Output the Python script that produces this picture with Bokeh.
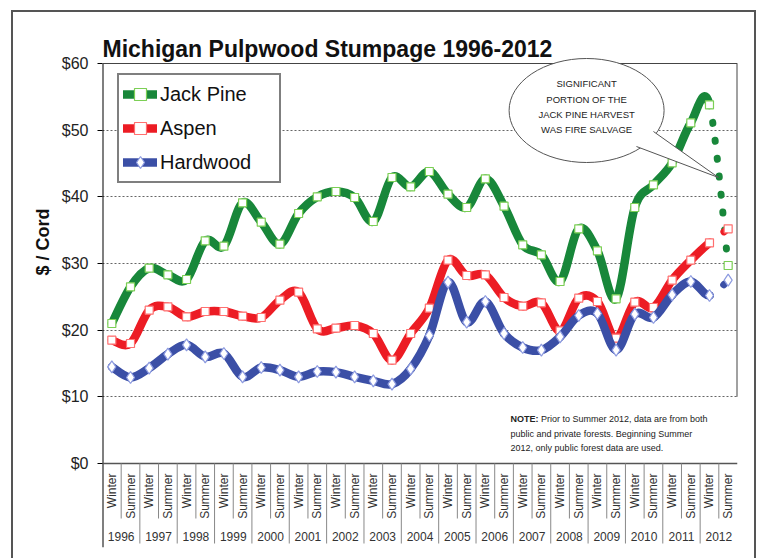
import math
from bokeh.plotting import figure
from bokeh.models import (Range1d, FixedTicker, PrintfTickFormatter, Legend, LegendItem,
                          Label, ColumnDataSource, Title)
from bokeh.core.properties import value
from bokeh.embed import file_html
from bokeh.resources import INLINE

# ---------------- data ----------------
years = [str(y) for y in range(1996, 2013)]
seasons = ["Winter", "Summer"]
categories = [(y, s) for y in years for s in seasons]

jack_pine = [21.0, 26.5, 29.3, 28.3, 27.6, 33.4, 32.6, 39.1, 36.2, 32.9,
             37.5, 40.0, 40.8, 39.9, 36.3, 42.9, 41.5, 43.8, 40.4, 38.4,
             42.7, 38.6, 32.8, 31.3, 27.3, 35.2, 31.9, 24.7, 38.4, 41.8,
             45.1, 51.1, 53.8, 29.7]
aspen = [18.5, 18.0, 23.0, 23.5, 22.0, 22.8, 22.8, 22.1, 21.9, 24.5,
         25.7, 20.2, 20.3, 20.7, 19.5, 15.5, 19.5, 23.3, 30.5, 28.2,
         28.3, 24.9, 23.6, 24.1, 19.9, 24.8, 24.3, 18.8, 24.2, 23.4,
         27.5, 30.5, 33.1, 35.2]
hardwood = [14.5, 12.9, 14.3, 16.4, 17.8, 16.0, 16.5, 13.0, 14.4, 14.0,
            13.0, 13.8, 13.7, 13.0, 12.4, 11.9, 14.2, 19.2, 27.2, 21.2,
            24.3, 19.5, 17.4, 17.0, 19.0, 22.2, 22.5, 17.0, 22.4, 21.9,
            25.3, 27.3, 25.2, 27.5]
y_ticks = [0, 10, 20, 30, 40, 50, 60]
grid_ticks = [10, 20, 30, 40, 50]

title_text = "Michigan Pulpwood Stumpage 1996-2012"
y_label = "$ / Cord"
callout_lines = ["SIGNIFICANT", "PORTION OF THE", "JACK PINE HARVEST", "WAS FIRE SALVAGE"]
note_bold = "NOTE:"
note_lines = ["Prior to Summer  2012, data are from both",
              "public and private forests.  Beginning Summer",
              "2012, only public forest data are used."]

# ---------------- style ----------------
SANS = "Liberation Sans, Arial, sans-serif"

n = len(categories)
xs = [i + 0.5 for i in range(n)]
y_min, y_max = 0, 60

p = figure(width=759, height=558, x_range=Range1d(0, n), y_range=Range1d(-12.6, 66.75),
           output_backend="svg", toolbar_location=None, x_axis_location=None,
           min_border_left=102, min_border_right=22, min_border_top=18, min_border_bottom=11,
           styles={"box-shadow": "inset 11px 10px 0 0 #fff, inset -3px 0 0 0 #fff, "
                                 "inset 13px 12px 0 0 #555, inset -5px 0 0 0 #555"})
p.outline_line_color = None
p.border_fill_color = None
p.background_fill_color = "white"

# y axis (line drawn separately so it stops at $60)
p.yaxis.ticker = FixedTicker(ticks=y_ticks)
p.yaxis.formatter = PrintfTickFormatter(format="$%d")
p.yaxis.major_label_text_font_size = "16px"
p.yaxis.major_label_text_font = SANS
p.yaxis.major_label_text_color = "#222222"
p.yaxis.axis_line_color = None
p.yaxis.major_tick_line_color = "black"
p.yaxis.major_tick_out = 5
p.yaxis.major_tick_in = 0
p.yaxis.minor_tick_out = 0
p.yaxis.minor_tick_in = 0
p.yaxis.major_label_standoff = 9
p.xgrid.visible = False
p.ygrid.ticker = FixedTicker(ticks=grid_ticks)
p.ygrid.grid_line_color = "#666666"
p.ygrid.grid_line_dash = "2 2"

p.add_layout(Title(text=y_label, align="right", offset=190, vertical_align="middle",
                   standoff=10, text_font=SANS, text_font_size="18px", text_font_style="bold",
                   text_color="#111111"), "left")

# frame lines
p.segment(x0=[0], y0=[-12.6], x1=[0], y1=[y_max], line_color="black", line_width=2)
p.segment(x0=[0], y0=[y_max], x1=[n], y1=[y_max], line_color="#444444", line_width=1)
p.segment(x0=[0], y0=[y_min], x1=[n], y1=[y_min], line_color="#555555", line_width=1.5)
p.segment(x0=[n], y0=[10], x1=[n], y1=[y_max], line_color="#444444", line_width=2)

# category axis labels drawn inside the extended frame
season_y = -1.5
year_y = -10.95
p.text(x=xs, y=[season_y] * n, text=[c[1] for c in categories], angle=math.pi / 2,
       text_align="right", text_baseline="middle", text_font=value(SANS),
       text_font_size="12px", text_color="#333333")
year_x = [2 * i + 1 for i in range(len(years))]
p.text(x=year_x, y=[year_y] * len(years), text=years, text_align="center",
       text_baseline="middle", text_font=value(SANS), text_font_size="12px",
       text_color="#333333")
sep_season = [2 * i + 1 for i in range(len(years))]
p.segment(x0=sep_season, y0=[0] * len(sep_season), x1=sep_season, y1=[-8.25] * len(sep_season),
          line_color="#888888", line_width=1)
sep_year = [2 * i for i in range(1, len(years))]
p.segment(x0=sep_year, y0=[0] * len(sep_year), x1=sep_year, y1=[-12.0] * len(sep_year),
          line_color="#888888", line_width=1)


def smooth(xv, yv, lo, hi, k=1.0 / 6):
    seg = dict(x0=[], y0=[], x1=[], y1=[], cx0=[], cy0=[], cx1=[], cy1=[])
    m = len(xv)
    for i in range(lo, hi):
        ip = max(i - 1, 0)
        inn = min(i + 2, m - 1)
        seg["x0"].append(xv[i]); seg["y0"].append(yv[i])
        seg["x1"].append(xv[i + 1]); seg["y1"].append(yv[i + 1])
        seg["cx0"].append(xv[i] + (xv[i + 1] - xv[ip]) * k)
        seg["cy0"].append(yv[i] + (yv[i + 1] - yv[ip]) * k)
        seg["cx1"].append(xv[i + 1] - (xv[inn] - xv[i]) * k)
        seg["cy1"].append(yv[i + 1] - (yv[inn] - yv[i]) * k)
    return ColumnDataSource(seg)


series = [
    ("Jack Pine", jack_pine, "#18873a", "#7ccf55", "square", 8),
    ("Aspen", aspen, "#ec1c24", "#ff7070", "square", 8),
    ("Hardwood", hardwood, "#3b4fa6", "#8d9be0", "diamond", 12),
]
items = []
for name, ys, col, edge, mk, sz in series:
    solid = p.bezier(x0="x0", y0="y0", x1="x1", y1="y1", cx0="cx0", cy0="cy0",
                     cx1="cx1", cy1="cy1", source=smooth(xs, ys, 0, n - 2),
                     line_color=col, line_width=8.5, line_cap="round")
    p.bezier(x0="x0", y0="y0", x1="x1", y1="y1", cx0="cx0", cy0="cy0",
             cx1="cx1", cy1="cy1", source=smooth(xs, ys, n - 2, n - 1),
             line_color=col, line_width=7, line_cap="round", line_dash="1 17")
    marks = p.scatter(x=xs, y=ys, marker=mk, size=sz, fill_color="white",
                      line_color=edge, line_width=1.2)
    items.append(LegendItem(label=name, renderers=[solid, marks]))

legend = Legend(items=items, location=(15, 364), padding=4, spacing=4,
                glyph_height=30, glyph_width=34, label_height=30, label_width=115,
                label_standoff=3, label_text_font_size="20px", label_text_font=SANS,
                label_text_color="#111111",
                border_line_color="black", border_line_width=2,
                background_fill_color="white", background_fill_alpha=1.0)
p.add_layout(legend)

# callout bubble
cx, cy = 25.92, 52.95
tail_x = [28.59, 32.98, 29.5]
tail_y = [47.55, 42.9, 49.8]
p.ellipse(x=[cx], y=[cy], width=155, height=104, width_units="screen", height_units="screen",
          fill_color="white", line_color="#555555", line_width=1)
p.patch(x=tail_x, y=tail_y, fill_color="white", line_color=None)
p.line(x=tail_x, y=tail_y, line_color="#555555", line_width=1)
callout_y = [57.0, 54.6, 52.35, 50.1]
p.text(x=[cx] * len(callout_lines), y=callout_y, text=callout_lines, text_align="center",
       text_baseline="middle", text_font=value(SANS), text_font_size="9.5px",
       text_color="#222222")

# note
note_y = [6.75, 4.5, 2.4]
p.text(x=[21.85], y=[note_y[0]], text=[note_bold], text_align="left", text_baseline="middle",
       text_font=value(SANS), text_font_size="9px", text_font_style="bold",
       text_color="#222222")
p.text(x=[23.48, 21.85, 21.85], y=note_y, text=note_lines, text_align="left",
       text_baseline="middle", text_font=value(SANS), text_font_size="9px",
       text_color="#222222")

# title
p.add_layout(Label(x=0, y=62.2, text=title_text, text_font=SANS, text_font_size="23px",
                   text_font_style="bold", text_color="#111111", text_baseline="alphabetic"))

open("out.html", "w").write(file_html(p, INLINE))
